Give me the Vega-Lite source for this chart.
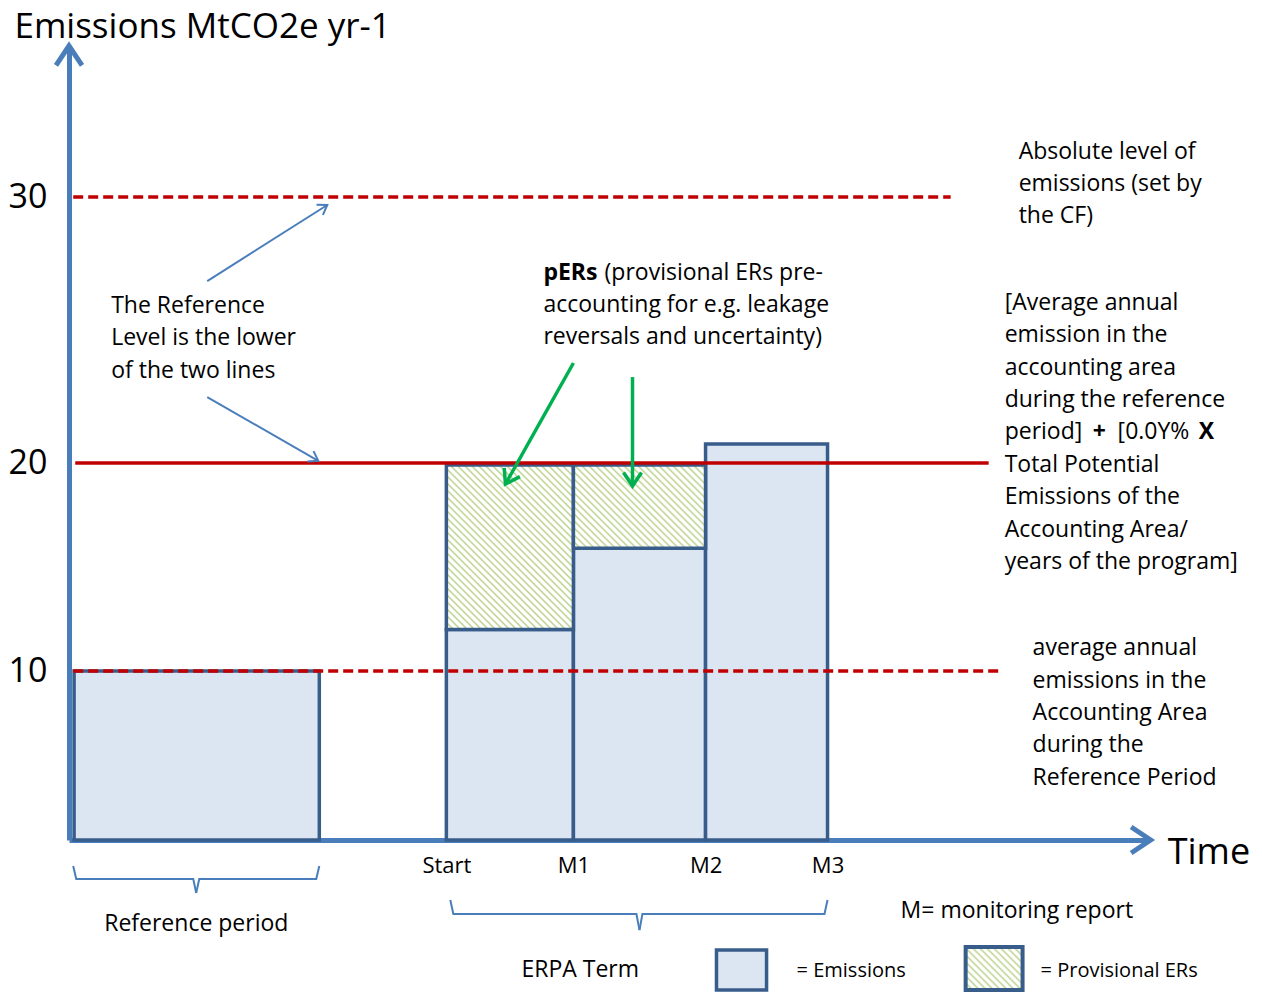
{
  "$schema": "https://vega.github.io/schema/vega-lite/v6.json",
  "width": 1080,
  "height": 792,
  "autosize": {"type": "none"},
  "padding": {"left": 69, "top": 48, "right": 114, "bottom": 152},
  "background": "white",
  "config": {"view": {"stroke": null}, "font": "Open Sans"},
  "encoding": {
    "x": {
      "field": "x", "type": "quantitative",
      "scale": {"domain": [-2.97, 5.53], "nice": false, "zero": false},
      "axis": {
        "title": null, "grid": false, "ticks": false,
        "domainColor": "#4a7ebb", "domainWidth": 5,
        "values": [0, 1, 2.04, 3],
        "labelExpr": "datum.value == 0 ? 'Start' : datum.value == 1 ? 'M1' : datum.value == 3 ? 'M3' : 'M2'",
        "labelFontSize": 22, "labelColor": "#000", "labelPadding": 15,
        "labelFlush": false, "labelOverlap": false, "labelFont": "Open Sans"
      }
    },
    "y": {
      "field": "y", "type": "quantitative",
      "scale": {"domain": [0, 10, 20, 30, 35.6], "range": [792, 623, 415, 149, 0], "nice": false, "zero": false},
      "axis": {
        "values": [10, 20, 30], "ticks": false, "grid": false,
        "domainColor": "#4a7ebb", "domainWidth": 5,
        "labelFontSize": 34, "labelColor": "#000", "labelPadding": 22, "labelFont": "Open Sans",
        "title": "Emissions MtCO2e yr-1", "titleAngle": 0, "titleAlign": "left",
        "titleBaseline": "alphabetic", "titleX": -55, "titleY": -11,
        "titleFontSize": 35, "titleFontWeight": "normal", "titleColor": "#000", "titleFont": "Open Sans"
      }
    }
  },
  "layer": [
    {
      "data": {"values": [
        {"part": "Reference period", "x": -2.93, "x2": -1.0, "y": 0, "y2": 10},
        {"part": "Start-M1 emissions", "x": 0, "x2": 1, "y": 0, "y2": 12},
        {"part": "M1-M2 emissions", "x": 1, "x2": 2.04, "y": 0, "y2": 15.9},
        {"part": "M2-M3 emissions", "x": 2.04, "x2": 3, "y": 0, "y2": 20.71},
        {"part": "legend emissions", "x": 2.126, "x2": 2.52, "y": -6.51, "y2": -8.88}
      ]},
      "mark": {"type": "rect", "fill": "#dce6f2", "stroke": "#385d8a", "strokeWidth": 3.5},
      "encoding": {"x2": {"field": "x2"}, "y2": {"field": "y2"}}
    },
    {
      "data": {"values": [{"part": "Start-M1 pERs", "x": 0, "x2": 1, "y": 12, "y2": 19.9}]},
      "mark": {"type": "rect", "stroke": "#385d8a", "strokeWidth": 3.5,
        "fill": {"gradient": "linear", "x1": 0, "y1": 1, "x2": 0.865, "y2": -0.12, "stops": [
          {"offset":0,"color":"#bcd38f"},{"offset":0.00714,"color":"#fff"},{"offset":0.01667,"color":"#fff"},
          {"offset":0.02381,"color":"#bcd38f"},{"offset":0.03095,"color":"#fff"},{"offset":0.04048,"color":"#fff"},
          {"offset":0.04762,"color":"#bcd38f"},{"offset":0.05476,"color":"#fff"},{"offset":0.06429,"color":"#fff"},
          {"offset":0.07143,"color":"#bcd38f"},{"offset":0.07857,"color":"#fff"},{"offset":0.0881,"color":"#fff"},
          {"offset":0.09524,"color":"#bcd38f"},{"offset":0.10238,"color":"#fff"},{"offset":0.1119,"color":"#fff"},
          {"offset":0.11905,"color":"#bcd38f"},{"offset":0.12619,"color":"#fff"},{"offset":0.13571,"color":"#fff"},
          {"offset":0.14286,"color":"#bcd38f"},{"offset":0.15,"color":"#fff"},{"offset":0.15952,"color":"#fff"},
          {"offset":0.16667,"color":"#bcd38f"},{"offset":0.17381,"color":"#fff"},{"offset":0.18333,"color":"#fff"},
          {"offset":0.19048,"color":"#bcd38f"},{"offset":0.19762,"color":"#fff"},{"offset":0.20714,"color":"#fff"},
          {"offset":0.21429,"color":"#bcd38f"},{"offset":0.22143,"color":"#fff"},{"offset":0.23095,"color":"#fff"},
          {"offset":0.2381,"color":"#bcd38f"},{"offset":0.24524,"color":"#fff"},{"offset":0.25476,"color":"#fff"},
          {"offset":0.2619,"color":"#bcd38f"},{"offset":0.26905,"color":"#fff"},{"offset":0.27857,"color":"#fff"},
          {"offset":0.28571,"color":"#bcd38f"},{"offset":0.29286,"color":"#fff"},{"offset":0.30238,"color":"#fff"},
          {"offset":0.30952,"color":"#bcd38f"},{"offset":0.31667,"color":"#fff"},{"offset":0.32619,"color":"#fff"},
          {"offset":0.33333,"color":"#bcd38f"},{"offset":0.34048,"color":"#fff"},{"offset":0.35,"color":"#fff"},
          {"offset":0.35714,"color":"#bcd38f"},{"offset":0.36429,"color":"#fff"},{"offset":0.37381,"color":"#fff"},
          {"offset":0.38095,"color":"#bcd38f"},{"offset":0.3881,"color":"#fff"},{"offset":0.39762,"color":"#fff"},
          {"offset":0.40476,"color":"#bcd38f"},{"offset":0.4119,"color":"#fff"},{"offset":0.42143,"color":"#fff"},
          {"offset":0.42857,"color":"#bcd38f"},{"offset":0.43571,"color":"#fff"},{"offset":0.44524,"color":"#fff"},
          {"offset":0.45238,"color":"#bcd38f"},{"offset":0.45952,"color":"#fff"},{"offset":0.46905,"color":"#fff"},
          {"offset":0.47619,"color":"#bcd38f"},{"offset":0.48333,"color":"#fff"},{"offset":0.49286,"color":"#fff"},
          {"offset":0.5,"color":"#bcd38f"},{"offset":0.50714,"color":"#fff"},{"offset":0.51667,"color":"#fff"},
          {"offset":0.52381,"color":"#bcd38f"},{"offset":0.53095,"color":"#fff"},{"offset":0.54048,"color":"#fff"},
          {"offset":0.54762,"color":"#bcd38f"},{"offset":0.55476,"color":"#fff"},{"offset":0.56429,"color":"#fff"},
          {"offset":0.57143,"color":"#bcd38f"},{"offset":0.57857,"color":"#fff"},{"offset":0.5881,"color":"#fff"},
          {"offset":0.59524,"color":"#bcd38f"},{"offset":0.60238,"color":"#fff"},{"offset":0.6119,"color":"#fff"},
          {"offset":0.61905,"color":"#bcd38f"},{"offset":0.62619,"color":"#fff"},{"offset":0.63571,"color":"#fff"},
          {"offset":0.64286,"color":"#bcd38f"},{"offset":0.65,"color":"#fff"},{"offset":0.65952,"color":"#fff"},
          {"offset":0.66667,"color":"#bcd38f"},{"offset":0.67381,"color":"#fff"},{"offset":0.68333,"color":"#fff"},
          {"offset":0.69048,"color":"#bcd38f"},{"offset":0.69762,"color":"#fff"},{"offset":0.70714,"color":"#fff"},
          {"offset":0.71429,"color":"#bcd38f"},{"offset":0.72143,"color":"#fff"},{"offset":0.73095,"color":"#fff"},
          {"offset":0.7381,"color":"#bcd38f"},{"offset":0.74524,"color":"#fff"},{"offset":0.75476,"color":"#fff"},
          {"offset":0.7619,"color":"#bcd38f"},{"offset":0.76905,"color":"#fff"},{"offset":0.77857,"color":"#fff"},
          {"offset":0.78571,"color":"#bcd38f"},{"offset":0.79286,"color":"#fff"},{"offset":0.80238,"color":"#fff"},
          {"offset":0.80952,"color":"#bcd38f"},{"offset":0.81667,"color":"#fff"},{"offset":0.82619,"color":"#fff"},
          {"offset":0.83333,"color":"#bcd38f"},{"offset":0.84048,"color":"#fff"},{"offset":0.85,"color":"#fff"},
          {"offset":0.85714,"color":"#bcd38f"},{"offset":0.86429,"color":"#fff"},{"offset":0.87381,"color":"#fff"},
          {"offset":0.88095,"color":"#bcd38f"},{"offset":0.8881,"color":"#fff"},{"offset":0.89762,"color":"#fff"},
          {"offset":0.90476,"color":"#bcd38f"},{"offset":0.9119,"color":"#fff"},{"offset":0.92143,"color":"#fff"},
          {"offset":0.92857,"color":"#bcd38f"},{"offset":0.93571,"color":"#fff"},{"offset":0.94524,"color":"#fff"},
          {"offset":0.95238,"color":"#bcd38f"},{"offset":0.95952,"color":"#fff"},{"offset":0.96905,"color":"#fff"},
          {"offset":0.97619,"color":"#bcd38f"},{"offset":0.98333,"color":"#fff"},{"offset":0.99286,"color":"#fff"},
          {"offset":1,"color":"#bcd38f"}
        ]}},
      "encoding": {"x2": {"field": "x2"}, "y2": {"field": "y2"}}
    },
    {
      "data": {"values": [{"part": "M1-M2 pERs", "x": 1, "x2": 2.04, "y": 15.9, "y2": 19.9}]},
      "mark": {"type": "rect", "stroke": "#385d8a", "strokeWidth": 3.5,
        "fill": {"gradient": "linear", "x1": 0, "y1": 1, "x2": 1.594, "y2": -0.005, "stops": [
          {"offset":0,"color":"#bcd38f"},{"offset":0.00714,"color":"#fff"},{"offset":0.01667,"color":"#fff"},
          {"offset":0.02381,"color":"#bcd38f"},{"offset":0.03095,"color":"#fff"},{"offset":0.04048,"color":"#fff"},
          {"offset":0.04762,"color":"#bcd38f"},{"offset":0.05476,"color":"#fff"},{"offset":0.06429,"color":"#fff"},
          {"offset":0.07143,"color":"#bcd38f"},{"offset":0.07857,"color":"#fff"},{"offset":0.0881,"color":"#fff"},
          {"offset":0.09524,"color":"#bcd38f"},{"offset":0.10238,"color":"#fff"},{"offset":0.1119,"color":"#fff"},
          {"offset":0.11905,"color":"#bcd38f"},{"offset":0.12619,"color":"#fff"},{"offset":0.13571,"color":"#fff"},
          {"offset":0.14286,"color":"#bcd38f"},{"offset":0.15,"color":"#fff"},{"offset":0.15952,"color":"#fff"},
          {"offset":0.16667,"color":"#bcd38f"},{"offset":0.17381,"color":"#fff"},{"offset":0.18333,"color":"#fff"},
          {"offset":0.19048,"color":"#bcd38f"},{"offset":0.19762,"color":"#fff"},{"offset":0.20714,"color":"#fff"},
          {"offset":0.21429,"color":"#bcd38f"},{"offset":0.22143,"color":"#fff"},{"offset":0.23095,"color":"#fff"},
          {"offset":0.2381,"color":"#bcd38f"},{"offset":0.24524,"color":"#fff"},{"offset":0.25476,"color":"#fff"},
          {"offset":0.2619,"color":"#bcd38f"},{"offset":0.26905,"color":"#fff"},{"offset":0.27857,"color":"#fff"},
          {"offset":0.28571,"color":"#bcd38f"},{"offset":0.29286,"color":"#fff"},{"offset":0.30238,"color":"#fff"},
          {"offset":0.30952,"color":"#bcd38f"},{"offset":0.31667,"color":"#fff"},{"offset":0.32619,"color":"#fff"},
          {"offset":0.33333,"color":"#bcd38f"},{"offset":0.34048,"color":"#fff"},{"offset":0.35,"color":"#fff"},
          {"offset":0.35714,"color":"#bcd38f"},{"offset":0.36429,"color":"#fff"},{"offset":0.37381,"color":"#fff"},
          {"offset":0.38095,"color":"#bcd38f"},{"offset":0.3881,"color":"#fff"},{"offset":0.39762,"color":"#fff"},
          {"offset":0.40476,"color":"#bcd38f"},{"offset":0.4119,"color":"#fff"},{"offset":0.42143,"color":"#fff"},
          {"offset":0.42857,"color":"#bcd38f"},{"offset":0.43571,"color":"#fff"},{"offset":0.44524,"color":"#fff"},
          {"offset":0.45238,"color":"#bcd38f"},{"offset":0.45952,"color":"#fff"},{"offset":0.46905,"color":"#fff"},
          {"offset":0.47619,"color":"#bcd38f"},{"offset":0.48333,"color":"#fff"},{"offset":0.49286,"color":"#fff"},
          {"offset":0.5,"color":"#bcd38f"},{"offset":0.50714,"color":"#fff"},{"offset":0.51667,"color":"#fff"},
          {"offset":0.52381,"color":"#bcd38f"},{"offset":0.53095,"color":"#fff"},{"offset":0.54048,"color":"#fff"},
          {"offset":0.54762,"color":"#bcd38f"},{"offset":0.55476,"color":"#fff"},{"offset":0.56429,"color":"#fff"},
          {"offset":0.57143,"color":"#bcd38f"},{"offset":0.57857,"color":"#fff"},{"offset":0.5881,"color":"#fff"},
          {"offset":0.59524,"color":"#bcd38f"},{"offset":0.60238,"color":"#fff"},{"offset":0.6119,"color":"#fff"},
          {"offset":0.61905,"color":"#bcd38f"},{"offset":0.62619,"color":"#fff"},{"offset":0.63571,"color":"#fff"},
          {"offset":0.64286,"color":"#bcd38f"},{"offset":0.65,"color":"#fff"},{"offset":0.65952,"color":"#fff"},
          {"offset":0.66667,"color":"#bcd38f"},{"offset":0.67381,"color":"#fff"},{"offset":0.68333,"color":"#fff"},
          {"offset":0.69048,"color":"#bcd38f"},{"offset":0.69762,"color":"#fff"},{"offset":0.70714,"color":"#fff"},
          {"offset":0.71429,"color":"#bcd38f"},{"offset":0.72143,"color":"#fff"},{"offset":0.73095,"color":"#fff"},
          {"offset":0.7381,"color":"#bcd38f"},{"offset":0.74524,"color":"#fff"},{"offset":0.75476,"color":"#fff"},
          {"offset":0.7619,"color":"#bcd38f"}
        ]}},
      "encoding": {"x2": {"field": "x2"}, "y2": {"field": "y2"}}
    },
    {
      "data": {"values": [{"part": "legend pERs", "x": 4.087, "x2": 4.535, "y": -6.33, "y2": -8.88}]},
      "mark": {"type": "rect", "stroke": "#385d8a", "strokeWidth": 4,
        "fill": {"gradient": "linear", "x1": 0, "y1": 1, "x2": 3.287, "y2": -1.48, "stops": [
          {"offset":0,"color":"#bcd38f"},{"offset":0.00714,"color":"#fff"},{"offset":0.01667,"color":"#fff"},
          {"offset":0.02381,"color":"#bcd38f"},{"offset":0.03095,"color":"#fff"},{"offset":0.04048,"color":"#fff"},
          {"offset":0.04762,"color":"#bcd38f"},{"offset":0.05476,"color":"#fff"},{"offset":0.06429,"color":"#fff"},
          {"offset":0.07143,"color":"#bcd38f"},{"offset":0.07857,"color":"#fff"},{"offset":0.0881,"color":"#fff"},
          {"offset":0.09524,"color":"#bcd38f"},{"offset":0.10238,"color":"#fff"},{"offset":0.1119,"color":"#fff"},
          {"offset":0.11905,"color":"#bcd38f"},{"offset":0.12619,"color":"#fff"},{"offset":0.13571,"color":"#fff"},
          {"offset":0.14286,"color":"#bcd38f"},{"offset":0.15,"color":"#fff"},{"offset":0.15952,"color":"#fff"},
          {"offset":0.16667,"color":"#bcd38f"},{"offset":0.17381,"color":"#fff"},{"offset":0.18333,"color":"#fff"},
          {"offset":0.19048,"color":"#bcd38f"},{"offset":0.19762,"color":"#fff"},{"offset":0.20714,"color":"#fff"},
          {"offset":0.21429,"color":"#bcd38f"},{"offset":0.22143,"color":"#fff"},{"offset":0.23095,"color":"#fff"},
          {"offset":0.2381,"color":"#bcd38f"},{"offset":0.24524,"color":"#fff"},{"offset":0.25476,"color":"#fff"},
          {"offset":0.2619,"color":"#bcd38f"},{"offset":0.26905,"color":"#fff"},{"offset":0.27857,"color":"#fff"},
          {"offset":0.28571,"color":"#bcd38f"},{"offset":0.29286,"color":"#fff"},{"offset":0.30238,"color":"#fff"},
          {"offset":0.30952,"color":"#bcd38f"},{"offset":0.31667,"color":"#fff"},{"offset":0.32619,"color":"#fff"},
          {"offset":0.33333,"color":"#bcd38f"},{"offset":0.34048,"color":"#fff"},{"offset":0.35,"color":"#fff"},
          {"offset":0.35714,"color":"#bcd38f"}
        ]}},
      "encoding": {"x2": {"field": "x2"}, "y2": {"field": "y2"}}
    },
    {
      "data": {"values": [
        {"line": "Absolute level of emissions", "x": -2.937, "x2": 3.969, "y": 30, "style": "dashed"},
        {"line": "Reference Level", "x": -2.921, "x2": 4.268, "y": 20, "style": "solid"},
        {"line": "Average annual emissions", "x": -2.937, "x2": 4.346, "y": 10, "style": "dashed"}
      ]},
      "mark": {"type": "rule", "color": "#c00000", "strokeWidth": 3.3},
      "encoding": {
        "x2": {"field": "x2"},
        "strokeDash": {"field": "style", "type": "nominal", "scale": {"domain": ["dashed", "solid"], "range": [[10, 5], [1, 0]]}, "legend": null}
      }
    },
    {
      "data": {"values": [
        {"x": -1.882, "y": 26.84, "x2": -0.937, "y2": 29.7},
        {"x": -1.882, "y": 22.48, "x2": -1.008, "y2": 20.08}
      ]},
      "mark": {"type": "rule", "color": "#4a7ebb", "strokeWidth": 2},
      "encoding": {"x2": {"field": "x2"}, "y2": {"field": "y2"}}
    },
    {
      "data": {"values": [
        {"x": 1.0, "y": 23.76, "x2": 0.465, "y2": 18.99},
        {"x": 1.465, "y": 23.23, "x2": 1.465, "y2": 18.89}
      ]},
      "mark": {"type": "rule", "color": "#00b050", "strokeWidth": 3.5},
      "encoding": {"x2": {"field": "x2"}, "y2": {"field": "y2"}}
    },
    {
      "data": {"values": [
        {"x": -0.937, "y": 29.7, "dir": 57.7},
        {"x": -1.008, "y": 20.08, "dir": 120}
      ]},
      "mark": {"type": "point", "shape": "M-1,1.5L0,0L1,1.5", "filled": false, "opacity": 1, "color": "#4a7ebb", "strokeWidth": 2, "size": 144},
      "encoding": {"angle": {"field": "dir", "type": "quantitative", "scale": null}}
    },
    {
      "data": {"values": [
        {"x": 0.465, "y": 18.99, "dir": 209.3},
        {"x": 1.465, "y": 18.89, "dir": 180}
      ]},
      "mark": {"type": "point", "shape": "M-1,1.5L0,0L1,1.5", "filled": false, "opacity": 1, "color": "#00b050", "strokeWidth": 3.5, "size": 324},
      "encoding": {"angle": {"field": "dir", "type": "quantitative", "scale": null}}
    },
    {
      "data": {"values": [
        {"axis": "Emissions", "x": -2.97, "y": 35.68, "dir": 0},
        {"axis": "Time", "x": 5.543, "y": 0, "dir": 90}
      ]},
      "mark": {"type": "point", "shape": "M-1,1.5L0,0L1,1.5", "filled": false, "opacity": 1, "color": "#4a7ebb", "strokeWidth": 5, "size": 676},
      "encoding": {"angle": {"field": "dir", "type": "quantitative", "scale": null}}
    },
    {
      "data": {"values": [
        {"brace": "ref-l", "ord": 1, "x": -2.937, "y": -1.54},
        {"brace": "ref-l", "ord": 2, "x": -2.913, "y": -2.31},
        {"brace": "ref-l", "ord": 3, "x": -1.992, "y": -2.31},
        {"brace": "ref-l", "ord": 4, "x": -1.969, "y": -3.14},
        {"brace": "ref-r", "ord": 1, "x": -1.0, "y": -1.54},
        {"brace": "ref-r", "ord": 2, "x": -1.024, "y": -2.31},
        {"brace": "ref-r", "ord": 3, "x": -1.945, "y": -2.31},
        {"brace": "ref-r", "ord": 4, "x": -1.969, "y": -3.14},
        {"brace": "erpa-l", "ord": 1, "x": 0.031, "y": -3.55},
        {"brace": "erpa-l", "ord": 2, "x": 0.055, "y": -4.38},
        {"brace": "erpa-l", "ord": 3, "x": 1.496, "y": -4.38},
        {"brace": "erpa-l", "ord": 4, "x": 1.52, "y": -5.33},
        {"brace": "erpa-r", "ord": 1, "x": 3.0, "y": -3.55},
        {"brace": "erpa-r", "ord": 2, "x": 2.976, "y": -4.38},
        {"brace": "erpa-r", "ord": 3, "x": 1.543, "y": -4.38},
        {"brace": "erpa-r", "ord": 4, "x": 1.52, "y": -5.33}
      ]},
      "mark": {"type": "line", "color": "#4a7ebb", "strokeWidth": 2},
      "encoding": {"detail": {"field": "brace"}, "order": {"field": "ord", "type": "quantitative"}}
    },
    {
      "data": {"values": [
        {"label": "Absolute level of", "x": 4.504, "y": 31.69},
        {"label": "emissions (set by", "x": 4.504, "y": 30.49},
        {"label": "the CF)", "x": 4.504, "y": 29.29},
        {"label": "(provisional ERs pre-", "x": 1.245, "y": 27.14},
        {"label": "accounting for e.g. leakage", "x": 0.764, "y": 25.94},
        {"label": "reversals and uncertainty)", "x": 0.764, "y": 24.74},
        {"label": "The Reference", "x": -2.638, "y": 25.9},
        {"label": "Level is the lower", "x": -2.638, "y": 24.7},
        {"label": "of the two lines", "x": -2.638, "y": 23.46},
        {"label": "[Average annual", "x": 4.394, "y": 26.02},
        {"label": "emission in the", "x": 4.394, "y": 24.81},
        {"label": "accounting area", "x": 4.394, "y": 23.57},
        {"label": "during the reference", "x": 4.394, "y": 22.37},
        {"label": "period]", "x": 4.394, "y": 21.17},
        {"label": "[0.0Y%", "x": 5.283, "y": 21.17},
        {"label": "Total Potential", "x": 4.394, "y": 19.9},
        {"label": "Emissions of the", "x": 4.394, "y": 18.37},
        {"label": "Accounting Area/", "x": 4.394, "y": 16.78},
        {"label": "years of the program]", "x": 4.394, "y": 15.24},
        {"label": "average annual", "x": 4.614, "y": 11.11},
        {"label": "emissions in the", "x": 4.614, "y": 9.41},
        {"label": "Accounting Area", "x": 4.614, "y": 7.51},
        {"label": "during the", "x": 4.614, "y": 5.62},
        {"label": "Reference Period", "x": 4.614, "y": 3.67},
        {"label": "Reference period", "x": -2.693, "y": -4.97},
        {"label": "M= monitoring report", "x": 3.575, "y": -4.2},
        {"label": "ERPA Term", "x": 0.591, "y": -7.69}
      ]},
      "mark": {"type": "text", "align": "left", "baseline": "middle", "fontSize": 23, "color": "#000"},
      "encoding": {"text": {"field": "label"}}
    },
    {
      "data": {"values": [
        {"label": "pERs", "x": 0.764, "y": 27.14},
        {"label": "+", "x": 5.087, "y": 21.17},
        {"label": "X", "x": 5.921, "y": 21.17}
      ]},
      "mark": {"type": "text", "align": "left", "baseline": "middle", "fontSize": 23, "fontWeight": "bold", "color": "#000"},
      "encoding": {"text": {"field": "label"}}
    },
    {
      "data": {"values": [
        {"label": "= Emissions", "x": 2.756, "y": -7.75},
        {"label": "= Provisional ERs", "x": 4.677, "y": -7.75}
      ]},
      "mark": {"type": "text", "align": "left", "baseline": "middle", "fontSize": 20, "color": "#000"},
      "encoding": {"text": {"field": "label"}}
    },
    {
      "data": {"values": [{"label": "Time", "x": 5.677, "y": -0.77}]},
      "mark": {"type": "text", "align": "left", "baseline": "middle", "fontSize": 36, "color": "#000"},
      "encoding": {"text": {"field": "label"}}
    }
  ]
}
